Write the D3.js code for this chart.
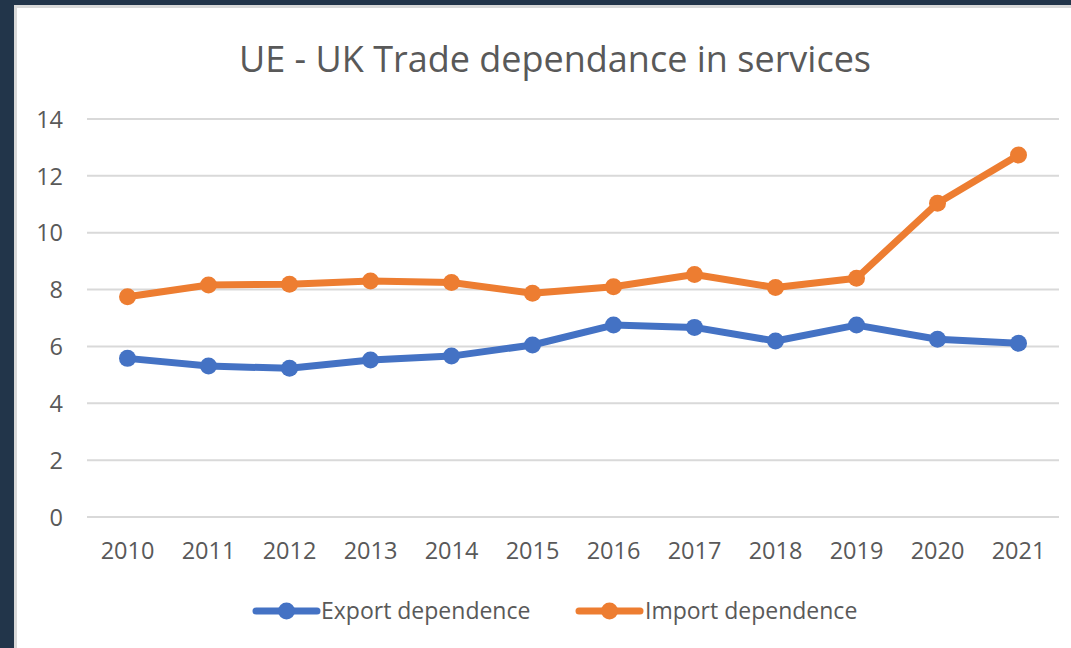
<!DOCTYPE html>
<html><head><meta charset="utf-8">
<script src="https://cdn.jsdelivr.net/npm/d3@7"></script>
<style>
html,body{margin:0;padding:0;background:#23374d;}
svg{display:block;}
</style></head>
<body>
<svg id="chart" width="1071" height="648"></svg>
<script>
const years = ["2010","2011","2012","2013","2014","2015","2016","2017","2018","2019","2020","2021"];
const exportDependence = [5.58, 5.31, 5.23, 5.52, 5.66, 6.05, 6.75, 6.67, 6.19, 6.75, 6.25, 6.11];
const importDependence = [7.75, 8.16, 8.19, 8.3, 8.25, 7.87, 8.1, 8.53, 8.07, 8.4, 11.04, 12.73];
const yTicks = [0, 2, 4, 6, 8, 10, 12, 14];
const seriesNames = ["Export dependence", "Import dependence"];
const colors = ["#4472C4", "#ED7D31"];
const title = "UE - UK Trade dependance in services";

const svg = d3.select("#chart");
const font = "'Open Sans', 'Noto Sans', sans-serif";

// background
svg.append("rect").attr("x",0).attr("y",0).attr("width",1071).attr("height",648).attr("fill","#22354a");
svg.append("rect").attr("x",14).attr("y",5).attr("width",1057).attr("height",643).attr("fill","#d9d9d9");
svg.append("rect").attr("x",17).attr("y",8).attr("width",1054).attr("height",640).attr("fill","#ffffff");

const x = d3.scaleBand().domain(years).range([87, 1059]);
const y = d3.scaleLinear().domain([0, 14]).range([517, 119]);

// gridlines
svg.append("g").selectAll("line").data(yTicks).join("line")
  .attr("x1", 87).attr("x2", 1059)
  .attr("y1", d => y(d)).attr("y2", d => y(d))
  .attr("stroke", "#d9d9d9").attr("stroke-width", 2);

// y axis
const yAxis = d3.axisLeft(y).tickValues(yTicks).tickSize(0).tickPadding(0);
const gy = svg.append("g").attr("transform","translate(63,0)").call(yAxis);
gy.select(".domain").remove();
gy.selectAll("text").attr("font-family", font).attr("font-size", 23.5).attr("fill","#595959").attr("dy","0.35em");

// x axis
const xAxis = d3.axisBottom(x).tickSize(0).tickPadding(0);
const gx = svg.append("g").attr("transform","translate(0,542)").call(xAxis);
gx.select(".domain").remove();
gx.selectAll("text").attr("font-family", font).attr("font-size", 23.5).attr("fill","#595959").attr("dy","0.72em");

// title
svg.append("text").attr("x", 555).attr("y", 72).attr("text-anchor","middle")
  .attr("font-family", font).attr("font-size", 36).attr("fill","#595959").text(title);

// series
const allSeries = [exportDependence, importDependence];
const line = d3.line().x((d,i) => x(years[i]) + x.bandwidth()/2).y(d => y(d));
allSeries.forEach((vals, s) => {
  svg.append("path").datum(vals).attr("d", line).attr("fill","none")
    .attr("stroke", colors[s]).attr("stroke-width", 7).attr("stroke-linejoin","round").attr("stroke-linecap","round");
  svg.append("g").selectAll("circle").data(vals).join("circle")
    .attr("cx", (d,i) => x(years[i]) + x.bandwidth()/2).attr("cy", d => y(d))
    .attr("r", 8.5).attr("fill", colors[s]);
});

// legend
const legendItems = [{x0: 256, tx: 321}, {x0: 579, tx: 645}];
legendItems.forEach((it, s) => {
  const g = svg.append("g");
  g.append("line").attr("x1", it.x0).attr("x2", it.x0 + 61).attr("y1", 611).attr("y2", 611)
    .attr("stroke", colors[s]).attr("stroke-width", 7).attr("stroke-linecap","round");
  g.append("circle").attr("cx", it.x0 + 30.5).attr("cy", 611).attr("r", 8.5).attr("fill", colors[s]);
  g.append("text").attr("x", it.tx).attr("y", 611).attr("dy","0.35em")
    .attr("font-family", font).attr("font-size", 23).attr("fill","#595959").text(seriesNames[s]);
});
</script>
</body></html>
